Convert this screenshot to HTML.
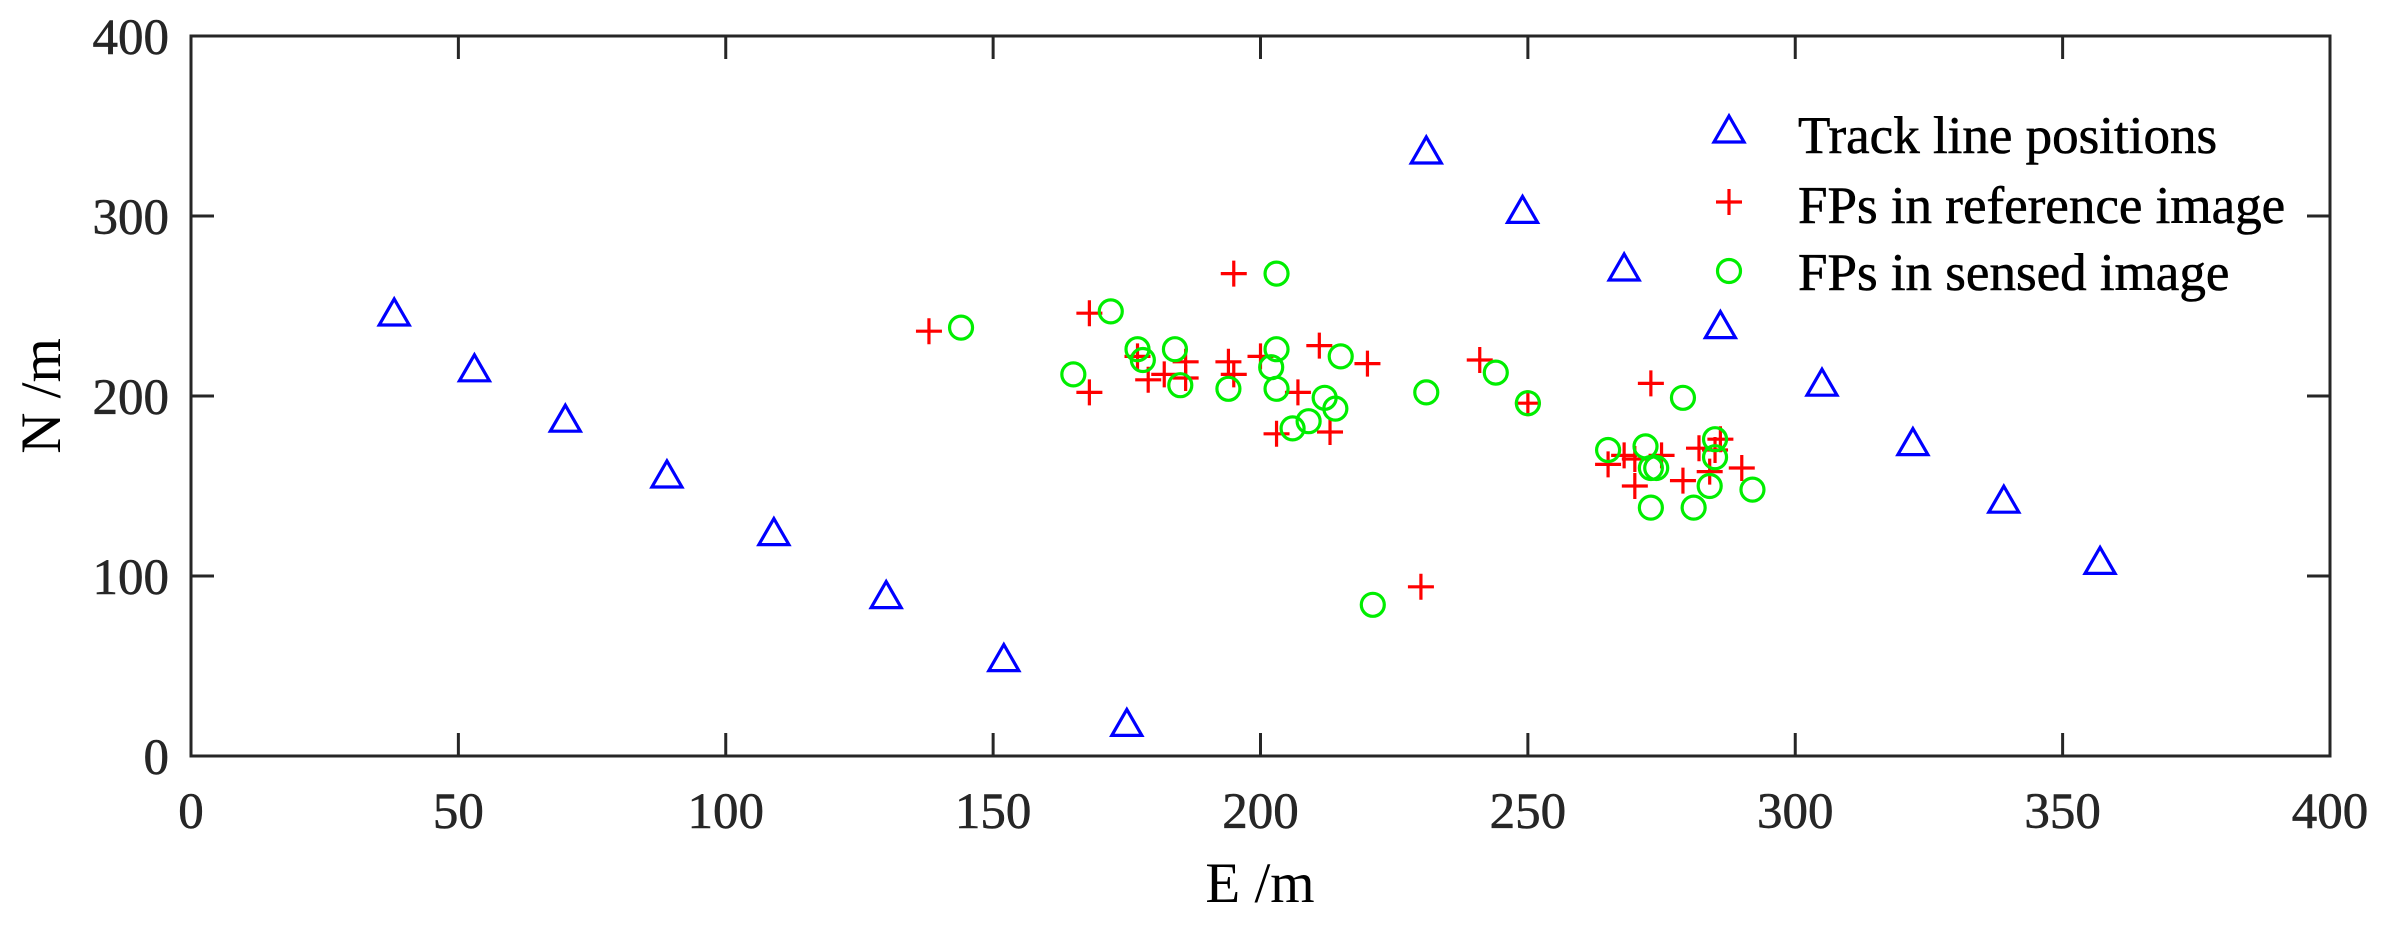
<!DOCTYPE html>
<html><head><meta charset="utf-8"><style>
html,body{margin:0;padding:0;background:#fff;}
svg{display:block;font-family:"Liberation Serif","Times New Roman",serif;}
</style></head><body>
<svg id="s" width="2387" height="925" viewBox="0 0 2387 925" xmlns="http://www.w3.org/2000/svg">
<rect width="2387" height="925" fill="#fff"/>
<g id="ticks" stroke="#262626" stroke-width="3"></g>
<g id="labels" fill="#262626" font-size="51" stroke="#262626" stroke-width="0.6"></g>
<text x="1260" y="902" font-size="57" fill="#000" text-anchor="middle">E /m</text>
<text transform="translate(60,396) rotate(-90)" font-size="57" fill="#000" text-anchor="middle">N /m</text>
<g id="pts"></g>
<rect x="191" y="36" width="2139" height="720" fill="none" stroke="#262626" stroke-width="3"/>
<g font-size="53" fill="#000" stroke="#000" stroke-width="0.6">
<text x="1798" y="153">Track line positions</text>
<text x="1798" y="223">FPs in reference image</text>
<text x="1798" y="290">FPs in sensed image</text>
</g>
</svg>
<script>
var NS="http://www.w3.org/2000/svg";
function X(v){return 191+v*5.3475;}
function Y(v){return 756-v*1.8;}
function el(p,t,a){var e=document.createElementNS(NS,t);for(var k in a)e.setAttribute(k,a[k]);p.appendChild(e);return e;}
var tk=document.getElementById('ticks'),lb=document.getElementById('labels'),pts=document.getElementById('pts');
for(var v=0;v<=400;v+=50){var x=X(v);
 el(tk,'line',{x1:x,y1:756,x2:x,y2:733});el(tk,'line',{x1:x,y1:36,x2:x,y2:59});
 var t=el(lb,'text',{x:x,y:828,'text-anchor':'middle'});t.textContent=v;}
for(var v=0;v<=400;v+=100){var y=Y(v);
 el(tk,'line',{x1:191,y1:y,x2:214,y2:y});el(tk,'line',{x1:2330,y1:y,x2:2307,y2:y});
 var t=el(lb,'text',{x:169,y:y+18,'text-anchor':'end'});t.textContent=v;}
function tri(x,y){el(pts,'polygon',{points:(x-15)+','+(y+10)+' '+(x+15)+','+(y+10)+' '+x+','+(y-16),fill:'none',stroke:'#0000ff','stroke-width':3.2});}
function plus(x,y){el(pts,'path',{d:'M'+(x-13)+' '+y+'H'+(x+13)+'M'+x+' '+(y-13)+'V'+(y+13),stroke:'#ff0000','stroke-width':3.2});}
function circ(x,y){el(pts,'circle',{cx:x,cy:y,r:11.5,fill:'none',stroke:'#00ee00','stroke-width':3.2});}
var T=[[38,245],[53,214],[70,186],[89,155],[109,123],[130,88],[152,53],[175,17],[231,335],[249,302],[268,270],[286,238],[305,206],[322,173],[339,141],[357,107]];
var P=[[138,236],[168,246],[168,202],[177,222],[179,209],[182,212],[186,219],[186,210],[195,268],[194,219],[195,212],[200,222],[203,179],[207,202],[211,228],[213,180],[220,218],[230,94],[241,220],[250,196],[265,162],[268,167],[270,165],[270,150],[273,207],[275,167],[279,153],[282,171],[285,170],[290,160],[284,158],[286,176]];
var C=[[144,238],[165,212],[172,247],[177,226],[178,220],[184,226],[185,206],[194,204],[203,268],[203,226],[202,216],[203,204],[206,182],[209,186],[212,199],[214,193],[215,222],[221,84],[231,202],[244,213],[250,196],[265,170],[272,172],[273,160],[273,138],[279,199],[281,138],[284,150],[285,176],[285,166],[292,148],[274,160]];
T.forEach(function(p){tri(X(p[0]),Y(p[1]));});
P.forEach(function(p){plus(X(p[0]),Y(p[1]));});
C.forEach(function(p){circ(X(p[0]),Y(p[1]));});
tri(1729,132);plus(1729,202);circ(1729,271);
</script>
</body></html>
